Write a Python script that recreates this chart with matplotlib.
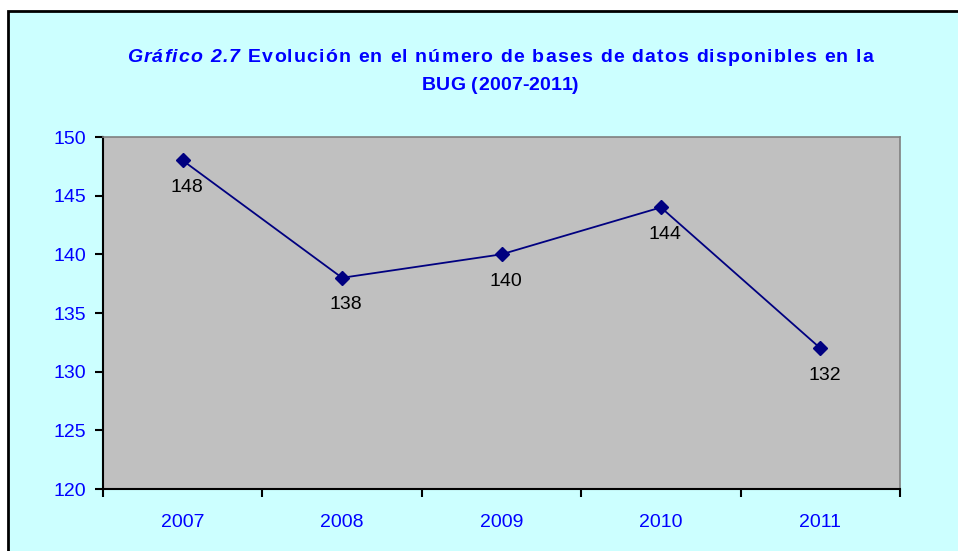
import matplotlib.pyplot as plt
from matplotlib.patches import Rectangle

years = ['2007', '2008', '2009', '2010', '2011']
bases = [148, 138, 140, 144, 132]
y_ticks = [120, 125, 130, 135, 140, 145, 150]

title_1 = [('Gráfico 2.7', 'italic'), (' Evolución en el número de bases de datos disponibles en la', 'normal')]
title_2 = [('BUG (2007-2011)', 'normal')]

plt.rcParams['font.family'] = ['Liberation Sans', 'DejaVu Sans']

fig = plt.figure(figsize=(9.58, 5.51), dpi=100)
fig.patch.set_facecolor('white')

# cyan chart area with black frame (runs off the right/bottom edge)
frame = Rectangle((8 / 958, -0.05), 1.1, 1 - 11 / 551 + 0.05, transform=fig.transFigure,
                  facecolor='#CCFFFF', edgecolor='black', linewidth=2, zorder=0)
fig.patches.append(frame)

ax = fig.add_axes([103 / 958, 1 - 489 / 551, 797 / 958, 352 / 551])
ax.set_zorder(2)
ax.set_facecolor('#C0C0C0')

x = list(range(len(years)))
ax.plot(x, bases, color='#000080', linewidth=1.3, marker='D', markersize=7.5, zorder=3)

for xi, v in zip(x, bases):
    ax.annotate(str(v), (xi, v), xytext=(3, -19.5), textcoords='offset points',
                ha='center', va='center', fontsize=14, color='black')

ax.set_xlim(-0.5, len(years) - 0.5)
ax.set_ylim(120, 150)
ax.set_yticks(y_ticks)
ax.set_yticklabels([str(t) for t in y_ticks], color='#0000FF', fontsize=14)
ax.set_xticks(x)
ax.set_xticklabels(years, color='#0000FF', fontsize=14)
ax.set_xticks([i - 0.5 for i in range(len(years) + 1)], minor=True)
ax.tick_params(axis='x', which='major', length=0, pad=18)
ax.tick_params(axis='x', which='minor', length=6, width=1.5, direction='out')
ax.tick_params(axis='y', length=6, width=1.5, direction='out', pad=6)

for side in ['left', 'bottom']:
    ax.spines[side].set_color('black')
    ax.spines[side].set_linewidth(1.5)
for side in ['top', 'right']:
    ax.spines[side].set_color('#808080')
    ax.spines[side].set_linewidth(1.2)


# title is slightly letter-spaced in the original, so place it char by char
renderer = fig.canvas.get_renderer()
title_kw = dict(fontsize=14, fontweight='bold', color='#0000FF', va='center', ha='left')


def text_width(s, style):
    t = fig.text(0, 0, s, style=style, **title_kw)
    w = t.get_window_extent(renderer).width
    t.remove()
    return w


def spaced_title(pieces, y_px, width_px, center_px=500):
    # natural left offset of every char, measured from prefixes
    chars = []
    offset = 0
    for s, st in pieces:
        base = text_width('I', st)
        for i, ch in enumerate(s):
            chars.append((ch, st, offset + text_width(s[:i] + 'I', st) - base))
        offset += text_width(s + 'I', st) - base
    extra = (width_px - offset) / (len(chars) - 1)
    start = center_px - width_px / 2
    for i, (ch, st, left) in enumerate(chars):
        if ch != ' ':
            fig.text((start + left + i * extra) / 958, 1 - y_px / 551, ch, style=st, **title_kw)


spaced_title(title_1, 57, 746)
spaced_title(title_2, 85, 156)

plt.savefig('out.png', dpi=100)
